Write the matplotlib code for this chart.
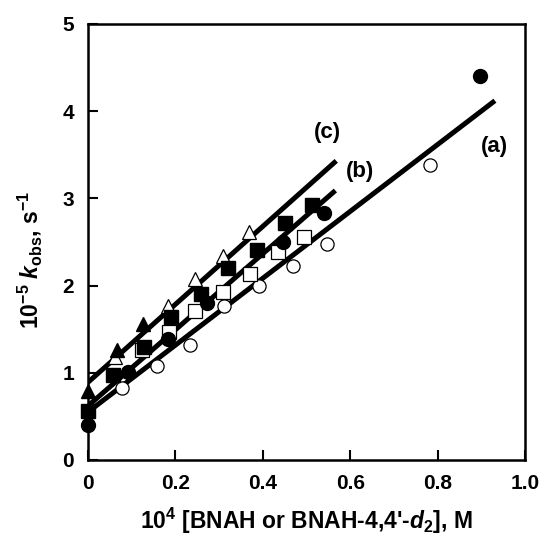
import matplotlib
matplotlib.use("Agg")
import matplotlib.pyplot as plt

plt.rcParams['font.family'] = ['Liberation Sans', 'DejaVu Sans']
plt.rcParams['font.weight'] = 'bold'
plt.rcParams['mathtext.fontset'] = 'custom'
plt.rcParams['mathtext.rm'] = 'Liberation Sans:bold'
plt.rcParams['mathtext.it'] = 'Liberation Sans:bold:italic'
plt.rcParams['mathtext.bf'] = 'Liberation Sans:bold'

# data
open_circle_x = [0.079, 0.157, 0.234, 0.312, 0.392, 0.470, 0.547, 0.782]
open_circle_y = [0.83, 1.08, 1.32, 1.76, 1.99, 2.23, 2.48, 3.38]

filled_circle_x = [0.0, 0.092, 0.182, 0.272, 0.447, 0.541, 0.898]
filled_circle_y = [0.40, 1.01, 1.39, 1.80, 2.50, 2.83, 4.40]

open_square_x = [0.123, 0.186, 0.245, 0.308, 0.371, 0.434, 0.495]
open_square_y = [1.26, 1.47, 1.71, 1.93, 2.13, 2.38, 2.56]

filled_square_x = [0.0, 0.058, 0.128, 0.189, 0.259, 0.321, 0.386, 0.451, 0.512]
filled_square_y = [0.56, 0.98, 1.30, 1.64, 1.90, 2.20, 2.41, 2.72, 2.92]

open_tri_x = [0.062, 0.184, 0.245, 0.308, 0.369]
open_tri_y = [1.18, 1.76, 2.08, 2.34, 2.61]

filled_tri_x = [0.0, 0.066, 0.127]
filled_tri_y = [0.79, 1.26, 1.56]

# fitted lines: (x start, x end), (y start, y end)
line_a_x = [0.0, 0.931]
line_a_y = [0.55, 4.12]
line_b_x = [0.0, 0.566]
line_b_y = [0.62, 3.09]
line_c_x = [0.0, 0.568]
line_c_y = [0.89, 3.43]

fig = plt.figure(figsize=(5.43, 5.39), dpi=100)
ax = fig.add_axes([0.162, 0.1466, 0.805, 0.809])

for lx, ly in [(line_a_x, line_a_y), (line_b_x, line_b_y), (line_c_x, line_c_y)]:
    ax.plot(lx, ly, color='black', linewidth=3.6, solid_capstyle='butt', zorder=2)

ax.plot(open_circle_x, open_circle_y, 'o', ms=9.5, mfc='white', mec='black', mew=0.9, zorder=3, clip_on=False)
ax.plot(open_square_x, open_square_y, 's', ms=10.5, mfc='white', mec='black', mew=0.9, zorder=3, clip_on=False)
ax.plot(open_tri_x, open_tri_y, '^', ms=10, mfc='white', mec='black', mew=0.9, zorder=3, clip_on=False)
ax.plot(filled_circle_x, filled_circle_y, 'o', ms=10, color='black', zorder=4, clip_on=False)
ax.plot(filled_square_x, filled_square_y, 's', ms=10.5, color='black', zorder=4, clip_on=False)
ax.plot(filled_tri_x, filled_tri_y, '^', ms=10, color='black', zorder=4, clip_on=False)

ax.text(0.547, 3.75, '(c)', fontsize=16, fontweight='bold', ha='center', va='center')
ax.text(0.623, 3.31, '(b)', fontsize=16, fontweight='bold', ha='center', va='center')
ax.text(0.931, 3.60, '(a)', fontsize=16, fontweight='bold', ha='center', va='center')

ax.set_xlim(0, 1.0)
ax.set_ylim(0, 5)
ax.set_xticks([0, 0.2, 0.4, 0.6, 0.8, 1.0])
ax.set_xticklabels(['0', '0.2', '0.4', '0.6', '0.8', '1.0'])
ax.set_yticks([0, 1, 2, 3, 4, 5])
ax.tick_params(direction='in', length=7, width=1.5, labelsize=15, pad=10)
for s in ax.spines.values():
    s.set_linewidth(1.8)

ax.set_xlabel(r"10$^{4}$ [BNAH or BNAH-4,4'-$\mathit{d}_{2}$], M", fontsize=16.5, fontweight='bold', labelpad=9)
ax.set_ylabel(r"10$^{-5}$ $\mathit{k}_{\mathrm{obs}}$, s$^{-1}$", fontsize=16.5, fontweight='bold')
ax.yaxis.set_label_coords(-0.10, 0.46)

fig.savefig('out.png', dpi=100)
